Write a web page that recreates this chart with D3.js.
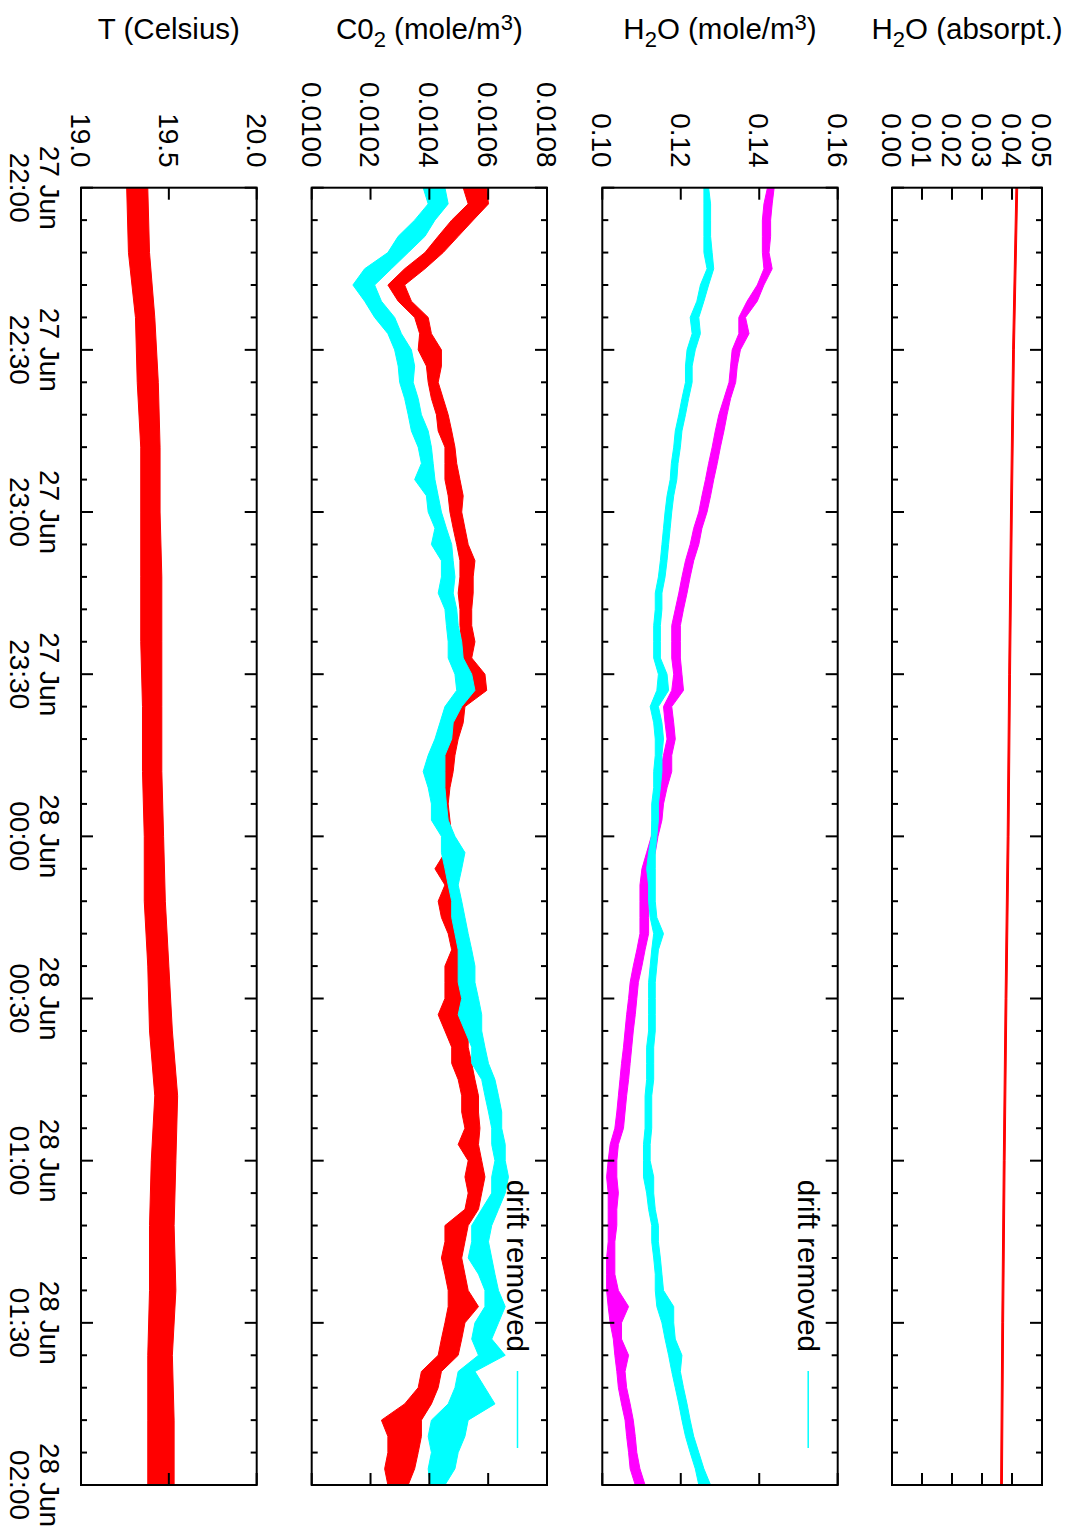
<!DOCTYPE html>
<html>
<head>
<meta charset="utf-8">
<title>CO2 / H2O drift removal</title>
<style>
  body { margin:0; background:#fff; }
  text { font-family: "Liberation Sans", Arial, Helvetica, sans-serif; fill:#000; }
  .frame { fill:none; stroke:#000; stroke-width:2; }
  .tick { stroke:#000; stroke-width:2; }
</style>
</head>
<body>
<div id="vis"></div>
<script src="https://d3js.org/d3.v7.min.js"></script>
<script>

// minutes after 27 Jun 22:00
var minutes = [0,3,6,9,12,15,18,21,24,27,30,33,36,39,42,45,48,51,54,57,60,63,66,69,72,75,78,81,84,87,
  90,93,96,99,102,105,108,111,114,117,120,123,126,129,132,135,138,141,144,147,150,153,156,159,162,165,168,171,174,177,
  180,183,186,189,192,195,198,201,204,207,210,213,216,219,222,225,228,231,234,237,240];

// CO2 raw (red) lower / upper edge of the noisy trace
var co2RawLo = [.010515,.010532,.010476,.010430,.010385,.010316,.010259,.010294,.010350,.010367,
  .010362,.010390,.010396,.010407,.010424,.010430,.010453,.010453,.010453,.010464,
  .010470,.010481,.010493,.010504,.010504,.010498,.010504,.010504,.010510,.010504,
  .010521,.010521,.010481,.010464,.010453,.010441,.010436,.010436,.010436,.010441,
  .010447,.010453,.010419,.010453,.010430,.010441,.010464,.010476,.010453,.010453,
  .010453,.010430,.010453,.010476,.010476,.010498,.010510,.010510,.010521,.010498,
  .010532,.010521,.010532,.010521,.010453,.010453,.010441,.010453,.010464,.010464,
  .010453,.010441,.010430,.010373,.010362,.010316,.010237,.010259,.010259,.010248,.010259];
var co2RawHi = [.010595,.010601,.010549,.010498,.010447,.010385,.010316,.010339,.010396,.010407,
  .010441,.010441,.010430,.010447,.010464,.010476,.010487,.010493,.010504,.010515,
  .010510,.010521,.010532,.010555,.010549,.010549,.010544,.010544,.010555,.010544,
  .010589,.010595,.010521,.010515,.010498,.010487,.010481,.010470,.010464,.010470,
  .010476,.010487,.010481,.010487,.010487,.010487,.010504,.010510,.010510,.010521,
  .010521,.010521,.010532,.010532,.010544,.010555,.010567,.010567,.010572,.010567,
  .010578,.010589,.010578,.010567,.010532,.010521,.010510,.010521,.010532,.010567,
  .010521,.010510,.010498,.010441,.010430,.010407,.010373,.010373,.010362,.010350,.010328];

// CO2 drift removed (cyan)
var co2FixLo = [.010379,.010396,.010350,.010294,.010259,.010180,.010140,.010180,.010214,.010259,
  .010282,.010294,.010299,.010316,.010328,.010339,.010362,.010373,.010350,.010390,
  .010396,.010419,.010407,.010441,.010441,.010430,.010453,.010458,.010464,.010464,
  .010487,.010493,.010453,.010436,.010419,.010396,.010379,.010396,.010407,.010407,
  .010441,.010441,.010453,.010464,.010476,.010476,.010487,.010498,.010498,.010498,
  .010510,.010498,.010521,.010544,.010544,.010578,.010589,.010601,.010612,.010612,
  .010623,.010612,.010612,.010578,.010544,.010544,.010532,.010567,.010589,.010589,
  .010555,.010544,.010567,.010498,.010487,.010464,.010407,.010396,.010407,.010396,.010402];
var co2FixHi = [.010453,.010464,.010419,.010385,.010328,.010271,.010214,.010237,.010282,.010305,
  .010339,.010350,.010345,.010362,.010373,.010396,.010407,.010413,.010419,.010430,
  .010441,.010458,.010476,.010481,.010487,.010481,.010493,.010498,.010510,.010515,
  .010544,.010555,.010510,.010481,.010476,.010453,.010453,.010453,.010458,.010464,
  .010487,.010521,.010510,.010498,.010510,.010521,.010532,.010544,.010555,.010555,
  .010567,.010578,.010578,.010589,.010601,.010623,.010635,.010646,.010646,.010658,
  .010658,.010669,.010658,.010635,.010612,.010601,.010612,.010623,.010635,.010658,
  .010635,.010612,.010658,.010555,.010589,.010623,.010532,.010521,.010498,.010487,.010453];

// H2O raw (magenta)
var h2oRawLo = [.1421,.1412,.1408,.1408,.1408,.1412,.1395,.1369,.1348,.1348,
  .1331,.1327,.1323,.1310,.1297,.1288,.1280,.1271,.1263,.1254,
  .1246,.1233,.1224,.1212,.1203,.1195,.1186,.1177,.1177,.1177,
  .1182,.1177,.1156,.1160,.1165,.1156,.1148,.1143,.1139,.1131,
  .1125,.1113,.1101,.1096,.1096,.1096,.1096,.1088,.1079,.1071,
  .1067,.1062,.1058,.1054,.1049,.1045,.1041,.1037,.1032,.1020,
  .1015,.1011,.1015,.1015,.1015,.1015,.1011,.1011,.1011,.1015,
  .1020,.1028,.1032,.1037,.1041,.1049,.1058,.1062,.1067,.1071,.1084];
var h2oRawHi = [.1438,.1433,.1429,.1429,.1425,.1433,.1412,.1395,.1365,.1374,
  .1352,.1344,.1340,.1327,.1318,.1310,.1301,.1293,.1284,.1276,
  .1267,.1254,.1246,.1233,.1224,.1216,.1207,.1199,.1199,.1199,
  .1203,.1207,.1177,.1182,.1186,.1177,.1177,.1165,.1156,.1152,
  .1142,.1135,.1122,.1118,.1118,.1118,.1118,.1109,.1101,.1092,
  .1088,.1084,.1079,.1075,.1071,.1067,.1062,.1058,.1054,.1041,
  .1037,.1037,.1041,.1037,.1037,.1032,.1032,.1032,.1041,.1067,
  .1049,.1049,.1067,.1058,.1062,.1071,.1079,.1084,.1088,.1096,.1109];

// H2O drift removed (cyan)
var h2oFixLo = [.1259,.1259,.1259,.1259,.1259,.1267,.1250,.1241,.1224,.1229,
  .1216,.1212,.1212,.1203,.1195,.1186,.1182,.1176,.1173,.1165,
  .1160,.1156,.1152,.1148,.1143,.1135,.1135,.1131,.1131,.1131,
  .1143,.1139,.1122,.1131,.1135,.1135,.1131,.1131,.1126,.1126,
  .1125,.1118,.1113,.1118,.1118,.1122,.1131,.1126,.1122,.1118,
  .1118,.1118,.1118,.1113,.1113,.1113,.1109,.1109,.1109,.1105,
  .1105,.1105,.1113,.1118,.1126,.1126,.1131,.1135,.1135,.1139,
  .1152,.1160,.1169,.1177,.1186,.1195,.1203,.1212,.1224,.1237,.1246];
var h2oFixHi = [.1271,.1276,.1276,.1276,.1280,.1284,.1271,.1259,.1246,.1250,
  .1237,.1229,.1229,.1220,.1212,.1203,.1199,.1193,.1190,.1182,
  .1177,.1173,.1169,.1165,.1160,.1152,.1152,.1148,.1148,.1148,
  .1165,.1169,.1143,.1152,.1156,.1152,.1152,.1148,.1143,.1143,
  .1139,.1135,.1135,.1135,.1135,.1139,.1156,.1143,.1139,.1135,
  .1135,.1135,.1135,.1131,.1131,.1131,.1126,.1126,.1126,.1122,
  .1122,.1131,.1131,.1135,.1143,.1143,.1148,.1152,.1156,.1182,
  .1182,.1186,.1203,.1199,.1207,.1216,.1224,.1233,.1246,.1259,.1276];

// temperature (red), coarser sampling
var tempMinutes = [0,12,24,36,48,60,72,84,96,108,120,132,144,156,168,180,192,204,216,228,240];
var tempLo = [19.26,19.27,19.31,19.32,19.34,19.34,19.34,19.34,19.35,19.35,19.36,19.36,19.38,19.39,19.42,19.40,19.39,19.39,19.38,19.38,19.38];
var tempHi = [19.38,19.39,19.42,19.44,19.45,19.45,19.46,19.46,19.46,19.46,19.47,19.48,19.50,19.52,19.55,19.54,19.53,19.54,19.52,19.53,19.53];

// H2O absorptance (red, thin)
var absMinutes = [0,30,60,90,120,150,180,210,240];
var absLo = [.0413,.0402,.0395,.0389,.0384,.0377,.0371,.0366,.0362];
var absHi = [.0419,.0408,.0401,.0395,.0390,.0383,.0377,.0372,.0368];

var absTicks = [0,0.01,0.02,0.03,0.04,0.05];
var h2oTicks = [0.10,0.12,0.14,0.16];
var co2Ticks = [0.0100,0.0102,0.0104,0.0106,0.0108];
var tempTicks = [19.0,19.5,20.0];

var titles = ["H_2O (absorpt.)", "H_2O (mole/m^3)", "C0_2 (mole/m^3)", "T (Celsius)"];
var keyLabel = "drift removed";

// ---- layout (gnuplot page drawn landscape, then turned a quarter clockwise) ----
var W = 1531, H = 1066;
var left = 187.7, right = 1485;

var svg = d3.select("#vis").append("svg")
  .attr("width", H)
  .attr("height", W);
svg.append("rect").attr("width", H).attr("height", W).attr("fill", "#fff");

var page = svg.append("g")
  .attr("transform", "translate(" + H + ",0) rotate(90)");

var t0 = Date.UTC(2009, 5, 27, 22, 0);
function toDate(m){ return new Date(t0 + m * 60000); }

var x = d3.scaleUtc().domain([toDate(0), toDate(240)]).range([left, right]);
var majorTicks = x.ticks(d3.utcMinute.every(30));
var minorTicks = x.ticks(d3.utcMinute.every(6));

var panels = [
  {top:24, bottom:174, domain:[0,0.05], ticks:absTicks, fmt:".2f", title:titles[0],
   series:[{m:absMinutes, lo:absLo, hi:absHi, color:"#ff0000"}]},
  {top:228.3, bottom:463.7, domain:[0.10,0.16], ticks:h2oTicks, fmt:".2f", title:titles[1], key:true,
   series:[{m:minutes, lo:h2oRawLo, hi:h2oRawHi, color:"#ff00ff"},
           {m:minutes, lo:h2oFixLo, hi:h2oFixHi, color:"#00ffff"}]},
  {top:519, bottom:754.3, domain:[0.0100,0.0108], ticks:co2Ticks, fmt:".4f", title:titles[2], key:true,
   series:[{m:minutes, lo:co2RawLo, hi:co2RawHi, color:"#ff0000"},
           {m:minutes, lo:co2FixLo, hi:co2FixHi, color:"#00ffff"}]},
  {top:809.3, bottom:985, domain:[19.0,20.0], ticks:tempTicks, fmt:".1f", title:titles[3],
   series:[{m:tempMinutes, lo:tempLo, hi:tempHi, color:"#ff0000"}]}
];

function addRich(sel, str, big, small){
  // gnuplot style: _x subscript, ^x superscript
  var parts = [], buf = "";
  for (var i = 0; i < str.length; i++){
    var c = str[i];
    if ((c === "_" || c === "^") && i + 1 < str.length){
      if (buf) parts.push({t:buf, s:0});
      buf = "";
      parts.push({t:str[i+1], s:(c === "_" ? 1 : -1)});
      i++;
    } else buf += c;
  }
  if (buf) parts.push({t:buf, s:0});
  var shift = 0;
  parts.forEach(function(p){
    var target = p.s * 8.5;
    sel.append("tspan")
      .attr("dy", target - shift)
      .style("font-size", (p.s ? small : big) + "px")
      .text(p.t);
    shift = target;
  });
}

panels.forEach(function(p){
  var g = page.append("g");
  var y = d3.scaleLinear().domain(p.domain).range([p.bottom, p.top]);

  // data bands
  p.series.forEach(function(s){
    var pts = s.m.map(function(m, i){ return {m:m, lo:s.lo[i], hi:s.hi[i]}; });
    var area = d3.area()
      .x(function(d){ return x(toDate(d.m)); })
      .y0(function(d){ return y(d.lo); })
      .y1(function(d){ return y(d.hi); });
    g.append("path")
      .datum(pts)
      .attr("d", area)
      .attr("fill", s.color)
      .attr("stroke", s.color)
      .attr("stroke-width", 1);
  });

  // value ticks, mirrored
  p.ticks.forEach(function(v){
    g.append("line").attr("class", "tick")
      .attr("x1", left).attr("x2", left + 12).attr("y1", y(v)).attr("y2", y(v));
    g.append("line").attr("class", "tick")
      .attr("x1", right).attr("x2", right - 12).attr("y1", y(v)).attr("y2", y(v));
    g.append("text")
      .attr("x", left - 20)
      .attr("y", y(v))
      .attr("dy", "0.36em")
      .attr("text-anchor", "end")
      .style("font-size", "28px")
      .text(d3.format(p.fmt)(v));
  });

  // time ticks, mirrored
  minorTicks.forEach(function(d){
    var len = (d.getUTCMinutes() % 30 === 0) ? 12 : 6;
    var xx = x(d);
    g.append("line").attr("class", "tick")
      .attr("x1", xx).attr("x2", xx).attr("y1", p.bottom).attr("y2", p.bottom - len);
    g.append("line").attr("class", "tick")
      .attr("x1", xx).attr("x2", xx).attr("y1", p.top).attr("y2", p.top + len);
  });

  g.append("rect").attr("class", "frame")
    .attr("x", left).attr("y", p.top)
    .attr("width", right - left).attr("height", p.bottom - p.top);

  // y label (reads horizontally once the page is turned)
  var cy = (p.top + p.bottom) / 2;
  var title = g.append("text")
    .attr("transform", "translate(38.5," + cy + ") rotate(-90)")
    .attr("text-anchor", "middle");
  addRich(title, p.title, 29.5, 22);

  if (p.key){
    g.append("text")
      .attr("x", 1352)
      .attr("y", p.top + 40)
      .attr("text-anchor", "end")
      .style("font-size", "29.5px")
      .text(keyLabel);
    g.append("line")
      .attr("x1", 1371).attr("x2", 1448)
      .attr("y1", p.top + 29.5).attr("y2", p.top + 29.5)
      .attr("stroke", "#00ffff")
      .attr("stroke-width", 1.5);
  }
});

// time labels under the bottom panel
var fmtDay = d3.utcFormat("%d %b"), fmtHour = d3.utcFormat("%H:%M");
majorTicks.forEach(function(d){
  var t = page.append("text")
    .attr("text-anchor", "middle")
    .style("font-size", "28px");
  t.append("tspan").attr("x", x(d)).attr("y", 1026).text(fmtDay(d));
  t.append("tspan").attr("x", x(d)).attr("y", 1056).text(fmtHour(d));
});

</script>
</body>
</html>
